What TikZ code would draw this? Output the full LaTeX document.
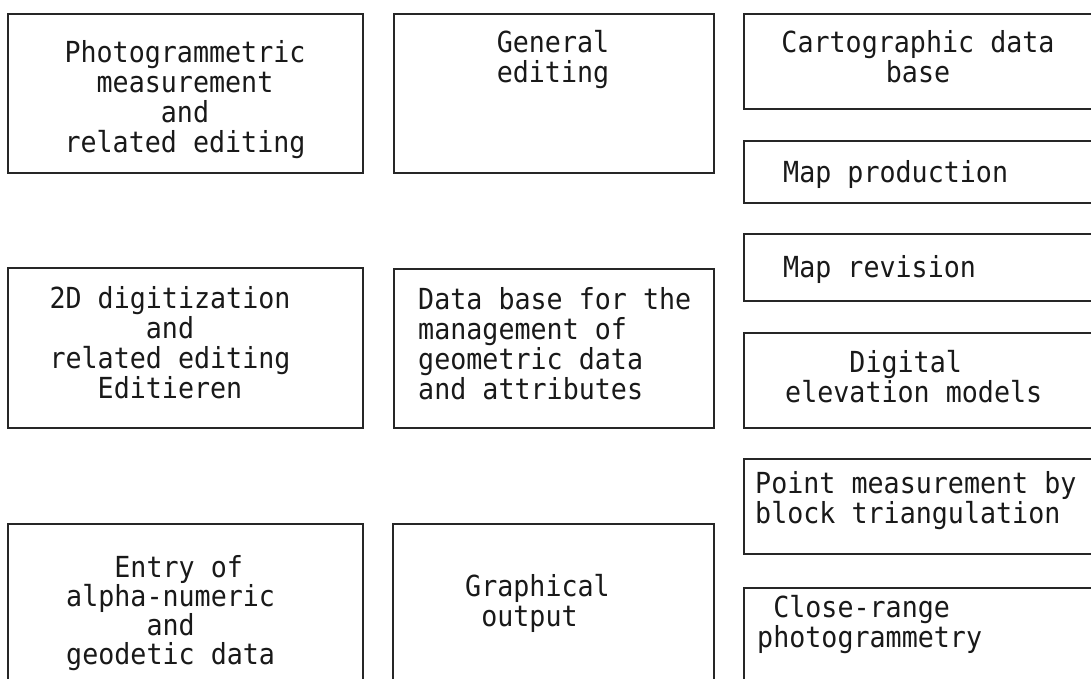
\documentclass[tikz,border=0pt]{standalone}
\usepackage{fontspec}
\newfontfamily\typewriter[FakeStretch=0.92]{DejaVu Sans Mono}
\newcommand\tw{\typewriter\fontsize{29}{30}\selectfont}
\newcommand\twtight{\typewriter\fontsize{29}{29}\selectfont}
% invisible strut that fixes the height of the first text line
\newcommand\lead{\rule{0pt}{25pt}}
\begin{document}
\begin{tikzpicture}[x=1pt,y=-1pt,
  frame/.style={draw=black!85, line width=1.8pt, inner sep=0pt, anchor=north west},
  lbl/.style={font=\tw, text=black!90, inner sep=0pt, anchor=north, align=center,
              execute at begin node=\lead},
  lbll/.style={lbl, anchor=north west, align=left}]
\useasboundingbox (0,0) rectangle (1091,679);
\clip (0,0) rectangle (1091,679);

% left column
\node[frame, minimum width=355pt, minimum height=159pt] (photo) at (7,13) {};
\node[lbl] (photo-t) at (185,40) {Photogrammetric\\measurement\\and\\related editing};

\node[frame, minimum width=355pt, minimum height=160pt] (digit) at (7,267) {};
\node[lbl] (digit-t) at (170,286) {2D digitization\\and\\related editing\\Editieren};

\node[frame, minimum width=355pt, minimum height=200pt] (entry) at (7,523) {};
\node[lbll, font=\twtight] (entry-t) at (66,555) {\hphantom{000}Entry of\\alpha-numeric\\\hphantom{00000}and\\geodetic data};

% middle column
\node[frame, minimum width=320pt, minimum height=159pt] (edit) at (393,13) {};
\node[lbl] (edit-t) at (553,30) {General\\editing};

\node[frame, minimum width=320pt, minimum height=159pt] (dbase) at (393,268) {};
\node[lbll] (dbase-t) at (418,287) {Data base for the\\management of\\geometric data\\and attributes};

\node[frame, minimum width=321pt, minimum height=200pt] (graph) at (392,523) {};
\node[lbll] (graph-t) at (465,574) {Graphical\\\hphantom{0}output};

% right column
\node[frame, minimum width=360pt, minimum height=95pt] (carto) at (743,13) {};
\node[lbl] (carto-t) at (918,30) {Cartographic data\\base};

\node[frame, minimum width=360pt, minimum height=62pt] (mapprod) at (743,140) {};
\node[lbll] (mapprod-t) at (783,157) {Map production};

\node[frame, minimum width=360pt, minimum height=67pt] (maprev) at (743,233) {};
\node[lbll] (maprev-t) at (783,252) {Map revision};

\node[frame, minimum width=360pt, minimum height=95pt] (dem) at (743,332) {};
\node[lbll] (dem-t) at (785,350) {\hphantom{0000}Digital\\elevation models};

\node[frame, minimum width=360pt, minimum height=95pt] (point) at (743,458) {};
\node[lbll] (point-t) at (755,471) {Point measurement by\\block triangulation};

\node[frame, minimum width=360pt, minimum height=200pt] (close) at (743,587) {};
\node[lbll] (close-t) at (757,595) {\hphantom{0}Close-range\\photogrammetry};
\end{tikzpicture}
\end{document}
